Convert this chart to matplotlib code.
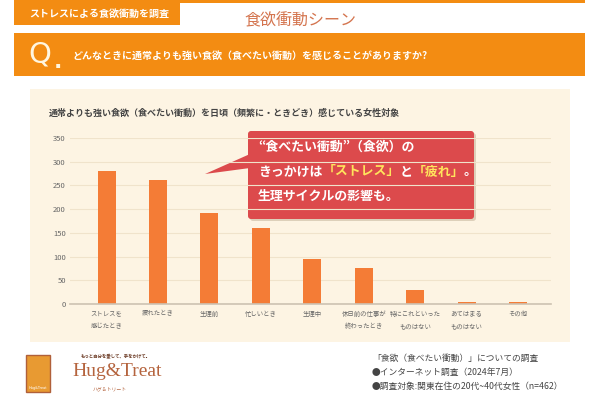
import matplotlib
matplotlib.use("Agg")
import matplotlib.pyplot as plt
from matplotlib.patches import Rectangle, FancyBboxPatch, Polygon

plt.rcParams["font.family"] = ["Noto Sans CJK JP", "DejaVu Sans"]

# データ
categories = [
    "ストレスを\n感じたとき",
    "疲れたとき",
    "生理前",
    "忙しいとき",
    "生理中",
    "休日前の仕事が\n終わったとき",
    "特にこれといった\nものはない",
    "あてはまる\nものはない",
    "その他",
]
values = [281, 262, 191, 161, 95, 76, 30, 5, 5]
yticks = [0, 50, 100, 150, 200, 250, 300, 350]

header_tab = "ストレスによる食欲衝動を調査"
header_title = "食欲衝動シーン"
question = "どんなときに通常よりも強い食欲（食べたい衝動）を感じることがありますか?"
chart_title = "通常よりも強い食欲（食べたい衝動）を日頃（頻繁に・ときどき）感じている女性対象"
callout_lines = [
    [("“食べたい衝動”（食欲）の", "white")],
    [("きっかけは", "white"), ("「ストレス」", "#ffe45c"), ("と", "white"),
     ("「疲れ」", "#ffe45c"), ("。", "white")],
    [("生理サイクルの影響も。", "white")],
]
notes = [
    "「食欲（食べたい衝動）」についての調査",
    "●インターネット調査（2024年7月）",
    "●調査対象:関東在住の20代~40代女性（n=462）",
]

ORANGE = "#f38c12"
CREAM = "#fdf4e3"
BAR = "#f47c36"
RED = "#dc4a4c"

fig = plt.figure(figsize=(6, 4), dpi=100)
fig.patch.set_facecolor("white")

# ピクセル座標のオーバーレイ
bg = fig.add_axes([0, 0, 1, 1])
bg.set_xlim(0, 600)
bg.set_ylim(400, 0)
bg.axis("off")

bg.add_patch(Rectangle((180, 0), 405, 2.5, color=ORANGE, lw=0))
bg.add_patch(Rectangle((14, 0), 166, 25, color=ORANGE, lw=0))
bg.text(29, 14, header_tab, color="white", fontsize=7.2, fontweight="bold", va="center")
t = bg.text(300, 21, header_title, color="#d4744e", fontsize=11.5, ha="center", va="center")

bg.add_patch(Rectangle((14, 33), 571, 43, color=ORANGE, lw=0))
bg.text(28, 55, "Q", color="#fff6e0", fontsize=21, va="center", family="DejaVu Sans")
bg.text(54, 62, ".", color="#fff6e0", fontsize=16, fontweight="bold", va="center", family="DejaVu Sans")
bg.text(72, 56, question, color="white", fontsize=7.2, fontweight="bold", va="center")

bg.add_patch(Rectangle((30, 89), 540, 253, color=CREAM, lw=0))
bg.text(49, 113, chart_title, color="#444444", fontsize=6.5, fontweight="bold", va="center")

# 棒グラフ
ax = fig.add_axes([70 / 600, (400 - 304) / 400, 481 / 600, 166 / 400])
ax.set_facecolor("none")
x = range(len(categories))
ax.bar(x, values, width=0.35, color=BAR, zorder=3)
ax.set_xlim(-0.71, 8.64)
ax.set_ylim(0, 350)
ax.set_yticks(yticks)
ax.set_xticks(list(x))
ax.set_xticklabels(categories, fontsize=4.6, color="#666666", linespacing=1.7)
ax.tick_params(axis="y", labelsize=5.5, labelcolor="#666666", length=0, pad=3)
ax.tick_params(axis="x", length=0, pad=4)
ax.grid(axis="y", color="#f0e3cb", lw=0.8, zorder=0)
for s in ["top", "right", "left"]:
    ax.spines[s].set_visible(False)
ax.spines["bottom"].set_color("#cdc2b2")
ax.spines["bottom"].set_linewidth(1.2)
ax.spines["bottom"].set_zorder(4)

# 吹き出し
bg.add_patch(FancyBboxPatch((250, 133), 226, 88, boxstyle="round,pad=0,rounding_size=3",
                            color="#c9b8a0", lw=0, alpha=0.6, zorder=2))
bg.add_patch(FancyBboxPatch((248, 131), 226, 88, boxstyle="round,pad=0,rounding_size=3",
                            color=RED, lw=0, zorder=3))
bg.add_patch(Polygon([(205, 174), (250, 154), (250, 168)], closed=True, color=RED, lw=0, zorder=3))

fig.canvas.draw()
renderer = fig.canvas.get_renderer()
for i, parts in enumerate(callout_lines):
    cx = 258
    cy = 147 + i * 24.5
    for txt, col in parts:
        t = bg.text(cx, cy, txt, color=col, fontsize=9.3, fontweight="bold", va="center", zorder=5)
        cx = t.get_window_extent(renderer).x1

# フッター
bg.add_patch(Rectangle((26, 355), 24, 37, facecolor="#e89a32", edgecolor="#b0603a", lw=1))
bg.text(38, 388, "Hug&Treat", color="white", fontsize=2.5, ha="center", va="center",
        family="DejaVu Sans")
bg.text(116, 356, "もっと自分を愛して、手をかけて。", color="#6b3a24", fontsize=3.2,
        ha="center", va="center", fontweight="bold")
bg.text(72, 372, "Hug&Treat", color="#b5643e", fontsize=14, va="center",
        family="Liberation Serif")
bg.text(110, 389, "ハグ＆トリート", color="#b5643e", fontsize=3.5, ha="center", va="center")

for i, line in enumerate(notes):
    bg.text(372, 358 + i * 14, line, color="#444444", fontsize=6.3, va="center")

fig.savefig("out.png", dpi=100)
